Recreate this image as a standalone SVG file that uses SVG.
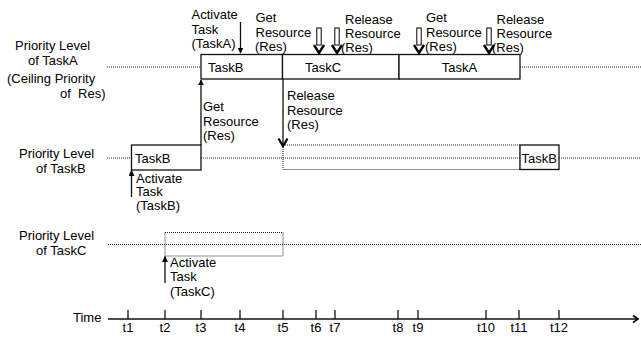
<svg xmlns="http://www.w3.org/2000/svg" width="641" height="338" viewBox="0 0 641 338">
<defs>
<style>
text{font-family:"Liberation Sans",Arial,sans-serif;font-size:13px;fill:#000}
.box{fill:#fff;stroke:#111;stroke-width:1.3}
.dot{fill:none;stroke:#222;stroke-width:1;stroke-dasharray:1,1}
.ln{fill:none;stroke:#111;stroke-width:1.3}
.mid{text-anchor:middle}
</style>
<marker id="tri" viewBox="0 0 10 10" refX="9" refY="5" markerWidth="6" markerHeight="6" markerUnits="userSpaceOnUse" orient="auto">
<path d="M0,0 L10,5 L0,10 z" fill="#000"/>
</marker>
</defs>
<rect width="641" height="338" fill="#fff"/>

<g id="levels">
<line class="dot" x1="107" y1="67" x2="201" y2="67"/>
<line class="dot" x1="520" y1="67" x2="641" y2="67"/>
<line class="dot" x1="107" y1="158" x2="131.5" y2="158"/>
<line class="dot" x1="201" y1="158" x2="641" y2="158"/>
<line class="dot" x1="108" y1="244.5" x2="641" y2="244.5"/>
</g>

<g id="label-taskA">
<text x="15" y="50">Priority Level</text>
<text x="28" y="64.5">of TaskA</text>
<text x="7" y="83">(Ceiling Priority</text>
<text x="60" y="98" xml:space="preserve">of  Res)</text>
</g>
<g id="label-taskB">
<text x="19" y="158">Priority Level</text>
<text x="36" y="173">of TaskB</text>
</g>
<g id="label-taskC">
<text x="19" y="240">Priority Level</text>
<text x="36" y="255">of TaskC</text>
</g>

<g id="box-taskB-top">
<rect class="box" x="201" y="54.5" width="81.5" height="24.5"/>
<text x="208" y="71.5">TaskB</text>
</g>
<g id="box-taskC-top">
<rect class="box" x="282.5" y="54.5" width="116.5" height="24.5"/>
<text x="305" y="71.5">TaskC</text>
</g>
<g id="box-taskA-top">
<rect class="box" x="399" y="54.5" width="121" height="24.5"/>
<text class="mid" x="459.5" y="71.5">TaskA</text>
</g>
<g id="box-taskB-low">
<rect class="box" x="131.5" y="145" width="69.5" height="25"/>
<text x="135" y="163">TaskB</text>
</g>
<g id="box-taskB-wait">
<rect class="dot" x="283" y="145" width="237" height="24.5"/>
</g>
<g id="box-taskB-end">
<rect class="box" x="520" y="145" width="39" height="24.5"/>
<text x="521.5" y="162.5">TaskB</text>
</g>
<g id="box-taskC-wait">
<rect class="dot" x="165" y="232.5" width="118" height="23.5"/>
</g>

<g id="connectors">
<line class="ln" x1="240.5" y1="22" x2="240.5" y2="53" marker-end="url(#tri)"/>
<line class="ln" x1="201" y1="145" x2="201" y2="80" marker-end="url(#tri)"/>
<line class="ln" x1="283" y1="79" x2="283" y2="145"/>
<path d="M278.5,138.5 L283,146 L287.5,138.5" fill="none" stroke="#000" stroke-width="2.2"/>
<line class="ln" x1="131.5" y1="197" x2="131.5" y2="170.5" marker-end="url(#tri)"/>
<line class="ln" x1="165" y1="283" x2="165" y2="256.5" marker-end="url(#tri)"/>
<g fill="#fff" stroke="#000">
<rect x="316.8" y="28" width="4.4" height="17" stroke-width="1"/>
<rect x="334.8" y="28" width="4.4" height="17" stroke-width="1"/>
<rect x="416.8" y="28" width="4.4" height="17" stroke-width="1"/>
<rect x="486.8" y="28" width="4.4" height="17" stroke-width="1"/>
</g>
<g fill="none" stroke="#000" stroke-width="2.4">
<path d="M314,45 L319,53 L324,45"/>
<path d="M332,45 L337,53 L342,45"/>
<path d="M414,45 L419,53 L424,45"/>
<path d="M484,45 L489,53 L494,45"/>
</g>
</g>

<g id="events">
<text x="191.5" y="19">Activate</text>
<text x="191.5" y="33.5">Task</text>
<text x="191.5" y="48">(TaskA)</text>
<text x="255.5" y="22">Get</text>
<text x="255.5" y="36.5">Resource</text>
<text x="255" y="51">(Res)</text>
<text x="345" y="23.5">Release</text>
<text x="345" y="38">Resource</text>
<text x="341" y="52">(Res)</text>
<text x="426" y="22">Get</text>
<text x="426" y="36.5">Resource</text>
<text x="425" y="51">(Res)</text>
<text x="496.5" y="23.5">Release</text>
<text x="496.5" y="38">Resource</text>
<text x="492" y="52">(Res)</text>
<text x="203" y="111">Get</text>
<text x="203" y="125.5">Resource</text>
<text x="203" y="140">(Res)</text>
<text x="287" y="100">Release</text>
<text x="287" y="114.5">Resource</text>
<text x="287" y="129">(Res)</text>
<text x="136" y="182.5">Activate</text>
<text x="136" y="196">Task</text>
<text x="136" y="209.5">(TaskB)</text>
<text x="170" y="267">Activate</text>
<text x="170" y="281">Task</text>
<text x="170" y="295.5">(TaskC)</text>
</g>

<g id="time-axis">
<text x="73" y="322">Time</text>
<line class="ln" x1="108" y1="319" x2="637" y2="319"/>
<path d="M633,315.5 L638,319 L633,322.5" fill="none" stroke="#000" stroke-width="1.6"/>
<g class="ln">
<line x1="128" y1="310" x2="128" y2="319"/>
<line x1="165" y1="310" x2="165" y2="319"/>
<line x1="201" y1="310" x2="201" y2="319"/>
<line x1="240" y1="310" x2="240" y2="319"/>
<line x1="283" y1="310" x2="283" y2="319"/>
<line x1="316" y1="310" x2="316" y2="319"/>
<line x1="335" y1="310" x2="335" y2="319"/>
<line x1="398" y1="310" x2="398" y2="319"/>
<line x1="418" y1="310" x2="418" y2="319"/>
<line x1="486" y1="310" x2="486" y2="319"/>
<line x1="519" y1="310" x2="519" y2="319"/>
<line x1="559" y1="310" x2="559" y2="319"/>
</g>
<g>
<text class="mid" x="128" y="332">t1</text>
<text class="mid" x="165" y="332">t2</text>
<text class="mid" x="201" y="332">t3</text>
<text class="mid" x="240" y="332">t4</text>
<text class="mid" x="283" y="332">t5</text>
<text class="mid" x="316" y="332">t6</text>
<text class="mid" x="335" y="332">t7</text>
<text class="mid" x="398" y="332">t8</text>
<text class="mid" x="418" y="332">t9</text>
<text class="mid" x="486" y="332">t10</text>
<text class="mid" x="519" y="332">t11</text>
<text class="mid" x="559" y="332">t12</text>
</g>
</g>
</svg>
